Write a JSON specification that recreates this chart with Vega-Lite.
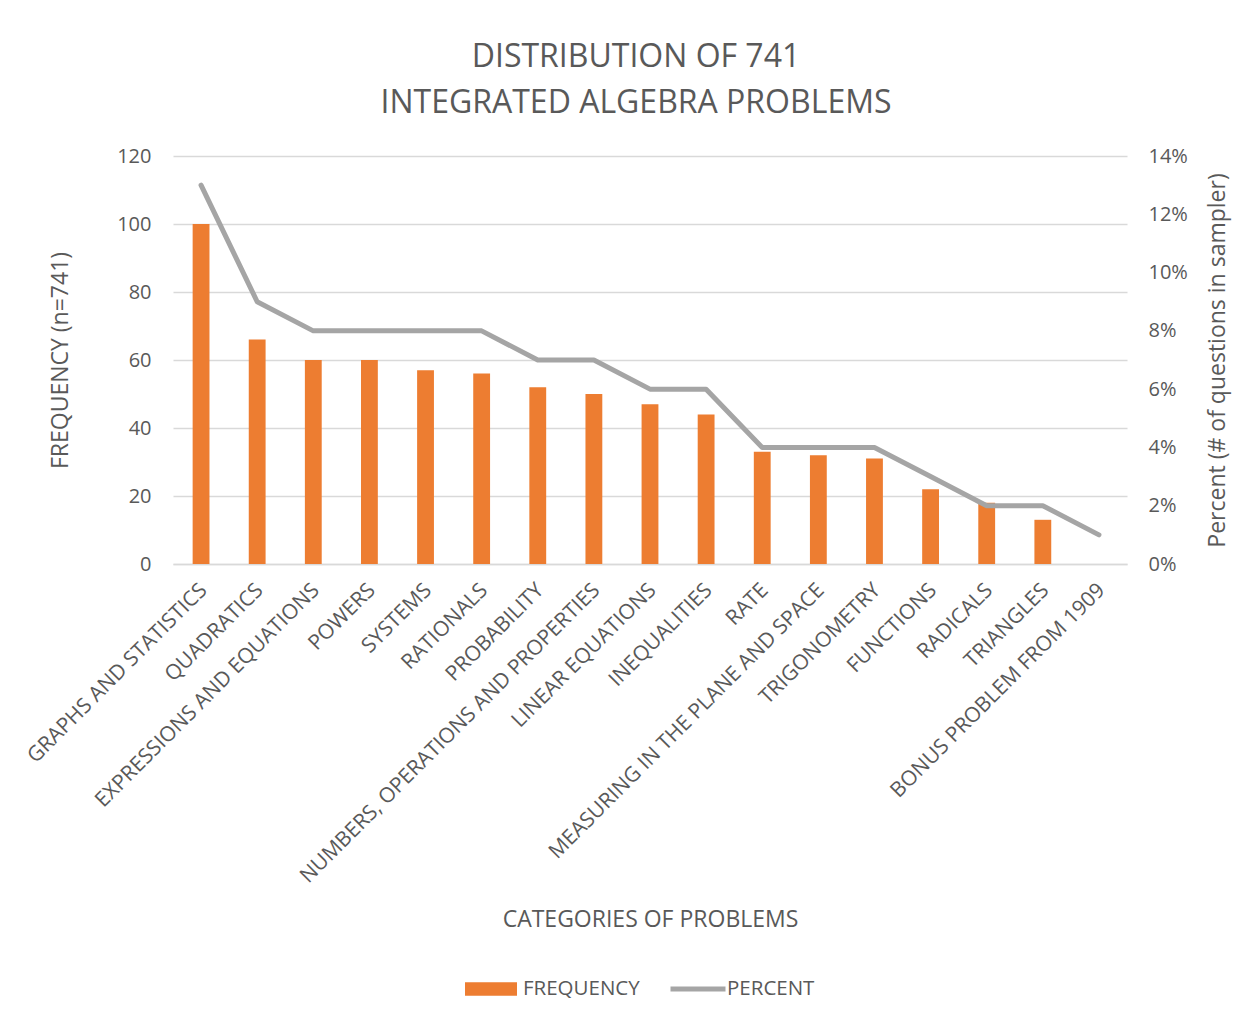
{
  "$schema": "https://vega.github.io/schema/vega-lite/v6.json",
  "autosize": {"type": "none"},
  "width": 954,
  "height": 408,
  "padding": {"left": 173, "top": 156, "right": 125, "bottom": 457},
  "background": "white",
  "title": {
    "text": ["DISTRIBUTION OF 741", "INTEGRATED ALGEBRA PROBLEMS"],
    "anchor": "middle",
    "dx": -14,
    "offset": 26,
    "fontSize": 32,
    "fontWeight": "normal",
    "font": "Open Sans",
    "color": "#595959",
    "lineHeight": 46
  },
  "config": {
    "font": "Open Sans",
    "view": {"stroke": null},
    "axis": {
      "labelColor": "#595959",
      "titleColor": "#595959",
      "labelFont": "Open Sans",
      "titleFont": "Open Sans",
      "titleFontWeight": "normal",
      "ticks": false,
      "domain": false
    }
  },
  "data": {
    "values": [
      {"category": "GRAPHS AND STATISTICS", "frequency": 100, "percent": 0.13},
      {"category": "QUADRATICS", "frequency": 66, "percent": 0.09},
      {"category": "EXPRESSIONS AND EQUATIONS", "frequency": 60, "percent": 0.08},
      {"category": "POWERS", "frequency": 60, "percent": 0.08},
      {"category": "SYSTEMS", "frequency": 57, "percent": 0.08},
      {"category": "RATIONALS", "frequency": 56, "percent": 0.08},
      {"category": "PROBABILITY", "frequency": 52, "percent": 0.07},
      {"category": "NUMBERS, OPERATIONS AND PROPERTIES", "frequency": 50, "percent": 0.07},
      {"category": "LINEAR EQUATIONS", "frequency": 47, "percent": 0.06},
      {"category": "INEQUALITIES", "frequency": 44, "percent": 0.06},
      {"category": "RATE", "frequency": 33, "percent": 0.04},
      {"category": "MEASURING IN THE PLANE AND SPACE", "frequency": 32, "percent": 0.04},
      {"category": "TRIGONOMETRY", "frequency": 31, "percent": 0.04},
      {"category": "FUNCTIONS", "frequency": 22, "percent": 0.03},
      {"category": "RADICALS", "frequency": 18, "percent": 0.02},
      {"category": "TRIANGLES", "frequency": 13, "percent": 0.02},
      {"category": "BONUS PROBLEM FROM 1909", "frequency": 0, "percent": 0.01}
    ]
  },
  "encoding": {
    "x": {
      "field": "category",
      "type": "nominal",
      "sort": null,
      "scale": {"paddingInner": 0.7, "paddingOuter": 0.35},
      "axis": {
        "title": "CATEGORIES OF PROBLEMS",
        "titleFontSize": 23,
        "titleY": 362,
        "titleBaseline": "alphabetic",
        "labelAngle": -45,
        "labelFontSize": 21,
        "labelPadding": 15,
        "labelOffset": -5,
        "labelLimit": 600,
        "labelOverlap": false,
        "domain": true,
        "domainColor": "#D9D9D9",
        "domainWidth": 1.5
      }
    }
  },
  "layer": [
    {
      "mark": {"type": "bar"},
      "encoding": {
        "y": {
          "field": "frequency",
          "type": "quantitative",
          "scale": {"domain": [0, 120], "nice": false},
          "axis": {
            "title": "FREQUENCY (n=741)",
            "values": [0, 20, 40, 60, 80, 100, 120],
            "titleFontSize": 23,
            "titlePadding": 44,
            "labelFontSize": 20,
            "labelPadding": 22,
            "grid": true,
            "gridColor": "#D9D9D9",
            "gridWidth": 1.5
          }
        },
        "fill": {
          "datum": "FREQUENCY",
          "type": "nominal",
          "scale": {"range": ["#ED7D31"]},
          "legend": {
            "title": null,
            "orient": "none",
            "legendX": 292,
            "legendY": 807,
            "padding": 0,
            "symbolType": "M-1,-0.26H1V0.26H-1Z",
            "symbolSize": 2704,
            "symbolStrokeWidth": 0,
            "labelFontSize": 20.5,
            "labelColor": "#595959",
            "labelOffset": 6
          }
        }
      }
    },
    {
      "mark": {"type": "line", "strokeWidth": 5, "strokeCap": "round", "strokeJoin": "round"},
      "encoding": {
        "y": {
          "field": "percent",
          "type": "quantitative",
          "scale": {"domain": [0, 0.14], "nice": false},
          "axis": {
            "orient": "right",
            "title": "Percent (# of questions in sampler)",
            "format": ".0%",
            "values": [0, 0.02, 0.04, 0.06, 0.08, 0.1, 0.12, 0.14],
            "titleFontSize": 23,
            "titleAngle": -90,
            "titlePadding": 42,
            "labelFontSize": 20,
            "labelPadding": 21,
            "grid": false
          }
        },
        "stroke": {
          "datum": "PERCENT",
          "type": "nominal",
          "scale": {"range": ["#A5A5A5"]},
          "legend": {
            "title": null,
            "orient": "none",
            "legendX": 495,
            "legendY": 803,
            "padding": 0,
            "symbolType": "stroke",
            "symbolSize": 3025,
            "symbolStrokeWidth": 5,
            "labelFontSize": 20.5,
            "labelColor": "#595959",
            "labelOffset": -1
          }
        }
      }
    }
  ],
  "resolve": {"scale": {"y": "independent"}}
}
